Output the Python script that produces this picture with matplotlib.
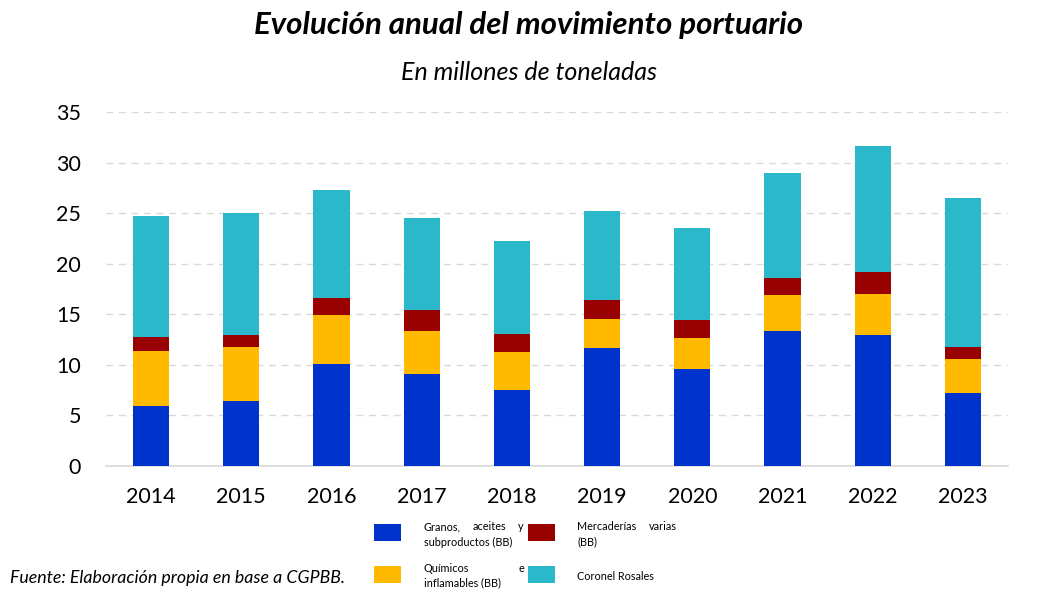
import matplotlib.pyplot as plt
from matplotlib.patches import Rectangle

plt.rcParams['font.family'] = ['Lato', 'DejaVu Sans']

years = ["2014", "2015", "2016", "2017", "2018", "2019", "2020", "2021", "2022", "2023"]
granos = [5.9, 6.4, 10.1, 9.1, 7.5, 11.7, 9.6, 13.3, 13.0, 7.2]
quimicos = [5.5, 5.35, 4.85, 4.25, 3.75, 2.85, 3.05, 3.65, 4.05, 3.35]
mercaderias = [1.4, 1.2, 1.7, 2.05, 1.8, 1.9, 1.8, 1.6, 2.1, 1.2]
coronel = [11.95, 12.05, 10.65, 9.1, 9.2, 8.8, 9.1, 10.4, 12.45, 14.75]

c_granos = "#0033CC"
c_merc = "#990000"
c_quim = "#FFBA00"
c_coronel = "#2BB8CB"

W, H = 1058, 595
fig = plt.figure(figsize=(W / 100, H / 100), dpi=100)
ax = fig.add_axes([106 / W, 1 - 466 / H, 902 / W, 354 / H])

x = range(len(years))
w = 0.4
b1 = [g + q for g, q in zip(granos, quimicos)]
b2 = [s + m for s, m in zip(b1, mercaderias)]
ax.bar(x, granos, w, color=c_granos, zorder=3)
ax.bar(x, quimicos, w, bottom=granos, color=c_quim, zorder=3)
ax.bar(x, mercaderias, w, bottom=b1, color=c_merc, zorder=3)
ax.bar(x, coronel, w, bottom=b2, color=c_coronel, zorder=3)

ax.set_xlim(-0.5, 9.5)
ax.set_ylim(0, 35)
ax.set_yticks(range(0, 36, 5))
ax.set_xticks(list(x))
ax.set_xticklabels(years)
ax.tick_params(axis='both', length=0, labelsize=15.5, colors='black')
ax.tick_params(axis='y', pad=18)
ax.tick_params(axis='x', pad=15)
ax.grid(axis='y', color='#D9D9D9', linestyle=(0, (5, 4)), linewidth=1, zorder=0)
for s in ['top', 'right', 'left']:
    ax.spines[s].set_visible(False)
ax.spines['bottom'].set_color('#D9D9D9')
ax.spines['bottom'].set_linewidth(1.2)

def px(xp, yp):
    return xp / W, 1 - yp / H

fig.text(*px(529, 25), "Evolución anual del movimiento portuario", ha='center', va='center',
         fontsize=22.5, fontweight='bold', fontstyle='italic')
fig.text(*px(529, 73), "En millones de toneladas", ha='center', va='center',
         fontsize=18, fontstyle='italic')
fig.text(*px(10, 578), "Fuente: Elaboración propia en base a CGPBB.", ha='left', va='center',
         fontsize=12.8, fontstyle='italic')

# legend, drawn by hand to keep the justified two-line labels
renderer = fig.canvas.get_renderer()

def justified(lines, x0, x1, ys):
    for i, (line, y) in enumerate(zip(lines, ys)):
        words = line.split()
        if i == len(lines) - 1 or len(words) == 1:
            fig.text(*px(x0, y), line, ha='left', va='center', fontsize=7.8)
            continue
        texts = [fig.text(*px(x0, y), wd, ha='left', va='center', fontsize=7.8) for wd in words]
        widths = [t.get_window_extent(renderer).width for t in texts]
        gap = (x1 - x0 - sum(widths)) / (len(words) - 1)
        xp = x0
        for t, wd in zip(texts, widths):
            t.set_x(xp / W)
            xp += wd + gap

def swatch(x0, y0, color):
    fig.add_artist(Rectangle(px(x0, y0 + 17), 27 / W, 17 / H, facecolor=color,
                             transform=fig.transFigure))

swatch(374, 524, c_granos)
justified(["Granos, aceites y", "subproductos (BB)"], 424, 524, [527, 542])
swatch(528, 524, c_merc)
justified(["Mercaderías varias", "(BB)"], 577, 677, [527, 542])
swatch(374, 566, c_quim)
justified(["Químicos e", "inflamables (BB)"], 424, 524, [569, 583])
swatch(528, 566, c_coronel)
justified(["Coronel Rosales"], 577, 677, [576])

fig.savefig("out.png", dpi=100)
